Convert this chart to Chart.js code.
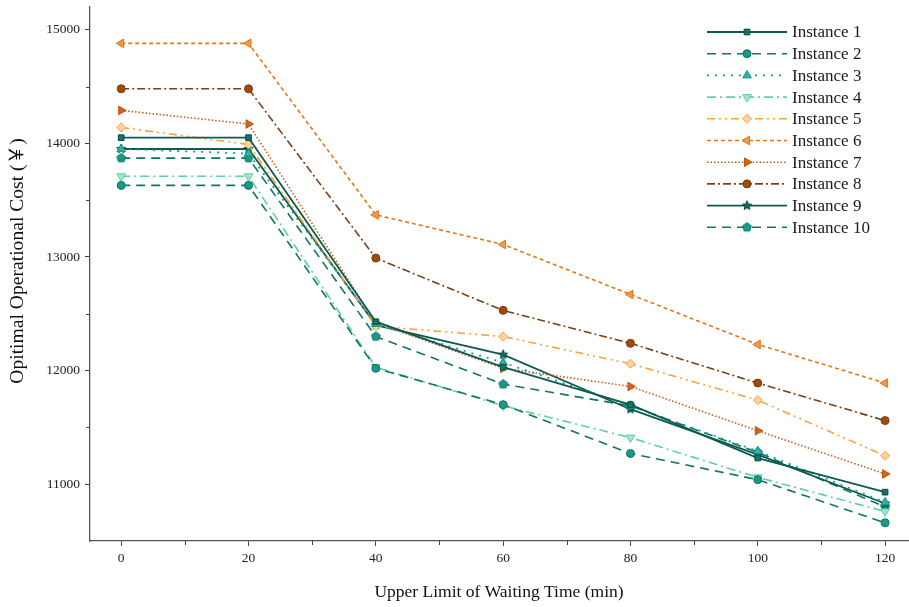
<!DOCTYPE html>
<html>
<head>
<meta charset="utf-8">
<script src="https://cdn.jsdelivr.net/npm/chart.js"></script>
<style>
html, body { margin: 0; padding: 0; background: #fff; }
#wrap { position: relative; width: 909px; height: 607px; }
</style>
</head>
<body>
<div id="wrap"><canvas id="costChart" width="909" height="607"></canvas></div>
<script>
// 資料
const waitTimes = [0, 20, 40, 60, 80, 100, 120];
const inst1 = [14050, 14050, 12430, 12030, 11700, 11230, 10930];
const inst2 = [13630, 13630, 12020, 11700, 11270, 11040, 10660];
const inst3 = [13950, 13910, 12410, 12070, 11690, 11290, 10840];
const inst4 = [13710, 13710, 12030, 11690, 11410, 11060, 10760];
const inst5 = [14140, 13990, 12390, 12300, 12060, 11740, 11250];
const inst6 = [14880, 14880, 13370, 13110, 12670, 12230, 11890];
const inst7 = [14290, 14170, 12420, 12020, 11860, 11470, 11090];
const inst8 = [14480, 14480, 12990, 12530, 12240, 11890, 11560];
const inst9 = [13950, 13950, 12400, 12140, 11660, 11260, 10830];
const inst10 = [13870, 13870, 12300, 11880, 11690, 11280, 10800];
const seriesNames = ['Instance 1', 'Instance 2', 'Instance 3', 'Instance 4', 'Instance 5',
  'Instance 6', 'Instance 7', 'Instance 8', 'Instance 9', 'Instance 10'];
const xTickValues = [0, 20, 40, 60, 80, 100, 120];
const yTickValues = [11000, 12000, 13000, 14000, 15000];
const yTitle = 'Opitimal Operational Cost (￥)';

const SERIF = "'Liberation Serif', 'Times New Roman', 'Noto Sans CJK SC', serif";

// 自訂 marker（五角形、實心星形）
function makeMarker(kind, fill, stroke, r) {
  const size = Math.ceil(r * 2 + 4);
  const c = document.createElement('canvas');
  c.width = size; c.height = size;
  const g = c.getContext('2d');
  const cx = size / 2, cy = size / 2;
  g.beginPath();
  if (kind === 'pentagon') {
    for (let i = 0; i < 5; i++) {
      const a = -Math.PI / 2 + i * 2 * Math.PI / 5;
      const px = cx + r * Math.cos(a), py = cy + r * Math.sin(a);
      i ? g.lineTo(px, py) : g.moveTo(px, py);
    }
  } else {
    for (let i = 0; i < 10; i++) {
      const a = -Math.PI / 2 + i * Math.PI / 5;
      const rr = i % 2 ? r * 0.45 : r * 1.05;
      const px = cx + rr * Math.cos(a), py = cy + rr * Math.sin(a);
      i ? g.lineTo(px, py) : g.moveTo(px, py);
    }
  }
  g.closePath();
  g.fillStyle = fill; g.fill();
  g.lineWidth = 1; g.strokeStyle = stroke; g.stroke();
  return c;
}

function toXY(vals) {
  return vals.map((v, i) => ({ x: waitTimes[i], y: v }));
}

function ds(label, vals, line, fill, edge, style, dash, width, rot, radius) {
  return {
    label: label,
    data: toXY(vals),
    borderColor: line,
    backgroundColor: fill,
    borderWidth: width,
    borderDash: dash,
    pointStyle: style,
    pointRotation: rot || 0,
    pointRadius: radius || 4,
    pointBackgroundColor: fill,
    pointBorderColor: edge,
    pointBorderWidth: 1,
    tension: 0,
    fill: false
  };
}

const datasets = [
  ds(seriesNames[0], inst1, '#0e5b51', '#137566', '#0b4a42', 'rect', [], 1.8, 0, 4),
  ds(seriesNames[1], inst2, '#137466', '#169a8a', '#117063', 'circle', [9, 6], 1.6, 0, 4),
  ds(seriesNames[2], inst3, '#1a9e8e', '#2ab4a1', '#1a9583', 'triangle', [2, 6], 1.8, 0, 5),
  ds(seriesNames[3], inst4, '#5fcfa4', '#a6e5cb', '#5fcfa4', 'triangle', [9, 4, 2, 4], 1.6, 180, 5),
  ds(seriesNames[4], inst5, '#ffa03a', '#ffd3a6', '#ff9d3a', 'rectRot', [8, 4, 2, 4, 2, 4], 1.6, 0, 4.5),
  ds(seriesNames[5], inst6, '#e57716', '#f29a4b', '#e27213', 'triangle', [4, 3], 1.6, -90, 5),
  ds(seriesNames[6], inst7, '#c0601c', '#cf661a', '#bb5812', 'triangle', [1.5, 2], 1.6, 90, 5),
  ds(seriesNames[7], inst8, '#7c4113', '#a04a0d', '#7c3a08', 'circle', [8, 3, 2, 3], 1.6, 0, 4),
  ds(seriesNames[8], inst9, '#0c5a50', '#126c60', '#0a4a42', makeMarker('star', '#126c60', '#0a4a42', 4.6), [], 1.8, 0, 4),
  ds(seriesNames[9], inst10, '#117466', '#169a8a', '#117063', makeMarker('pentagon', '#169a8a', '#117063', 4.6), [9, 6], 1.6, 0, 4)
];

// 圖例：線段 + marker
const lineLegend = {
  id: 'lineLegend',
  afterDraw(chart) {
    const ctx = chart.ctx;
    const x0 = 707, x1 = 787, mx = 747, tx = 792, y0 = 32, dy = 21.7;
    chart.data.datasets.forEach((d, i) => {
      const y = y0 + i * dy;
      ctx.save();
      ctx.strokeStyle = d.borderColor;
      ctx.lineWidth = d.borderWidth;
      ctx.setLineDash(d.borderDash || []);
      ctx.beginPath(); ctx.moveTo(x0, y); ctx.lineTo(x1, y); ctx.stroke();
      ctx.setLineDash([]);
      ctx.fillStyle = d.pointBackgroundColor;
      ctx.strokeStyle = d.pointBorderColor;
      ctx.lineWidth = 1;
      if (Chart.helpers && Chart.helpers.drawPoint) {
        Chart.helpers.drawPoint(ctx, { pointStyle: d.pointStyle, radius: d.pointRadius, rotation: d.pointRotation, borderWidth: 1 }, mx, y);
      }
      ctx.fillStyle = '#1a1a1a';
      ctx.font = '17px ' + SERIF;
      ctx.textBaseline = 'middle';
      ctx.textAlign = 'left';
      ctx.fillText(d.label, tx, y + 1);
      ctx.restore();
    });
  }
};

// 次刻度 + 縱軸標題
const minorTicks = {
  id: 'minorTicks',
  afterDraw(chart) {
    const ctx = chart.ctx;
    const xs = chart.scales.x, ys = chart.scales.y;
    ctx.save();
    ctx.strokeStyle = '#444';
    ctx.lineWidth = 1;
    [10, 30, 50, 70, 90, 110].forEach(v => {
      const px = Math.round(xs.getPixelForValue(v)) + 0.5;
      ctx.beginPath(); ctx.moveTo(px, xs.top); ctx.lineTo(px, xs.top + 4); ctx.stroke();
    });
    [11500, 12500, 13500, 14500].forEach(v => {
      const py = Math.round(ys.getPixelForValue(v)) + 0.5;
      ctx.beginPath(); ctx.moveTo(ys.right, py); ctx.lineTo(ys.right - 4, py); ctx.stroke();
    });
    ctx.translate(18, 261);
    ctx.rotate(-Math.PI / 2);
    ctx.fillStyle = '#111';
    ctx.font = '19.6px ' + SERIF;
    ctx.textAlign = 'center';
    ctx.textBaseline = 'middle';
    ctx.fillText(yTitle, 0, 0);
    ctx.restore();
  }
};

new Chart(document.getElementById('costChart'), {
  type: 'line',
  data: { datasets: datasets },
  options: {
    responsive: false,
    animation: false,
    layout: { autoPadding: false, padding: { left: 0, right: 1, top: 7, bottom: 0 } },
    plugins: { legend: { display: false }, tooltip: { enabled: false } },
    scales: {
      x: {
        type: 'linear',
        min: -4.9,
        max: 123.6,
        afterBuildTicks: s => { s.ticks = xTickValues.map(v => ({ value: v })); },
        afterFit: s => { s.height = 66; s.paddingLeft = 0; s.paddingRight = 0; },
        grid: { drawOnChartArea: false, drawTicks: true, tickLength: 5, tickColor: '#444' },
        border: { display: true, color: '#555', width: 1.3 },
        ticks: { color: '#222', font: { family: SERIF, size: 13.5 }, padding: 4, maxRotation: 0 },
        title: { display: true, text: 'Upper Limit of Waiting Time (min)', color: '#111',
          font: { family: SERIF, size: 17.5 }, padding: { top: 15 } }
      },
      y: {
        min: 10500,
        max: 15200,
        afterBuildTicks: s => { s.ticks = yTickValues.map(v => ({ value: v })); },
        afterFit: s => { s.width = 90; s.paddingTop = 0; s.paddingBottom = 0; },
        grid: { drawOnChartArea: false, drawTicks: true, tickLength: 5, tickColor: '#444' },
        border: { display: true, color: '#555', width: 1.3 },
        ticks: { color: '#222', font: { family: SERIF, size: 13.5 }, padding: 5,
          callback: v => String(v) },
        title: { display: false }
      }
    }
  },
  plugins: [lineLegend, minorTicks]
});
</script>
</body>
</html>
